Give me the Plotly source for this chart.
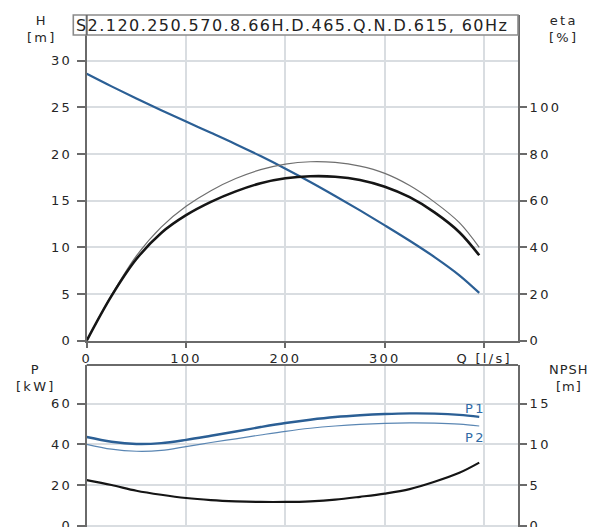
import plotly.graph_objects as go

# ---------------- data ----------------
Q = [0, 25, 50, 75, 100, 125, 150, 175, 200, 225, 250, 275, 300, 325, 350, 375, 395]
H = [28.6, 27.25, 25.95, 24.7, 23.48, 22.28, 21.06, 19.78, 18.43, 17.01, 15.51, 13.96, 12.36, 10.71, 8.96, 7.01, 5.12]
ETA = [0, 19.2, 35, 46.2, 53.8, 59.5, 64, 67.5, 69.6, 70.5, 70.3, 68.9, 66.0, 61.5, 55.0, 46.5, 36.6]
ETA_THIN = [0, 19.6, 36.4, 48.7, 57.6, 64.3, 69.5, 73.3, 75.7, 76.7, 76.4, 74.8, 71.7, 66.5, 59.4, 50.6, 40]
P1 = [43.6, 41.3, 40.2, 40.6, 42.2, 44.2, 46.3, 48.5, 50.5, 52.1, 53.4, 54.3, 54.9, 55.2, 55.1, 54.5, 53.5]
P2 = [40.0, 37.6, 36.6, 37.0, 38.9, 40.9, 42.7, 44.6, 46.4, 47.9, 49.0, 49.8, 50.3, 50.5, 50.4, 49.9, 49.0]
NPSH = [5.6, 5.0, 4.3, 3.8, 3.4, 3.15, 3.0, 2.92, 2.92, 3.0, 3.2, 3.55, 3.95, 4.5, 5.4, 6.5, 7.75]

TITLE = "S2.120.250.570.8.66H.D.465.Q.N.D.615, 60Hz"
H_TICKS = [0, 5, 10, 15, 20, 25, 30]
ETA_TICKS = [0, 20, 40, 60, 80, 100]
Q_TICKS = [0, 100, 200, 300, 400]
Q_TICKTEXT = ["0", "100", "200", "300", "Q [l/s]"]
P_TICKS = [0, 20, 40, 60]
NPSH_TICKS = [0, 5, 10, 15]

# the page body has an 8px margin: the figure is drawn 8px in from the window edge
OFF = 8
W, HT = 600 - 2 * OFF, 527 - OFF
FONT = "DejaVu Sans"
TXT = "#262626"
BLUE = "#2b5f95"
GRID = "#d9dde1"
AX = "#6a6a6a"


def sp(t, s=2.3):
    return f'<span style="letter-spacing:{s}px">{t}</span>'


def px(x):  # window pixel -> paper fraction
    return (x - OFF) / W


def py(y):
    return (HT - (y - OFF)) / HT


XL, XR = 86.7, 518.0
fig = go.Figure()

fig.add_trace(go.Scatter(x=Q, y=ETA_THIN, xaxis="x", yaxis="y2", mode="lines",
                         line=dict(color="#6f6f6f", width=1.2, shape="spline"), showlegend=False))
fig.add_trace(go.Scatter(x=Q, y=ETA, xaxis="x", yaxis="y2", mode="lines",
                         line=dict(color="#151515", width=2.6, shape="spline"), showlegend=False))
fig.add_trace(go.Scatter(x=Q, y=H, xaxis="x", yaxis="y", mode="lines",
                         line=dict(color=BLUE, width=2.2, shape="spline"), showlegend=False))

fig.add_trace(go.Scatter(x=Q, y=NPSH, xaxis="x2", yaxis="y4", mode="lines",
                         line=dict(color="#151515", width=2.2, shape="spline"), showlegend=False))
fig.add_trace(go.Scatter(x=Q, y=P2, xaxis="x2", yaxis="y3", mode="lines",
                         line=dict(color="#5a86b3", width=1.2, shape="spline"), showlegend=False))
fig.add_trace(go.Scatter(x=Q, y=P1, xaxis="x2", yaxis="y3", mode="lines",
                         line=dict(color=BLUE, width=2.4, shape="spline"), showlegend=False))

tickfont = dict(family=FONT, size=13, color=TXT)
xdom = [px(XL), px(XR)]
xr = [0, 434]

layout = dict(
    width=W, height=HT,
    margin=dict(l=0, r=0, t=0, b=0, autoexpand=False),
    paper_bgcolor="white", plot_bgcolor="white",
    showlegend=False,
    xaxis=dict(domain=xdom, range=xr, anchor="y", tickvals=Q_TICKS,
               ticktext=[sp(t) for t in Q_TICKTEXT], tickfont=tickfont,
               showgrid=True, gridcolor=GRID, gridwidth=1.6, zeroline=False,
               showline=True, linecolor=AX, linewidth=2, ticks="outside",
               ticklen=5, tickcolor=AX, tickwidth=1.5),
    yaxis=dict(domain=[py(340.7), py(15)], range=[0, 34.9], anchor="x",
               tickvals=H_TICKS, ticktext=[sp(str(t)) for t in H_TICKS],
               tickfont=tickfont, showgrid=True, gridcolor=GRID, gridwidth=1.6,
               zeroline=False, showline=True, linecolor=AX, linewidth=2,
               ticks="outside", ticklen=8, tickcolor=AX, tickwidth=1.5,
               ticklabelstandoff=2),
    yaxis2=dict(overlaying="y", side="right", anchor="x", range=[0, 139.6],
                tickvals=ETA_TICKS, ticktext=[sp(str(t)) for t in ETA_TICKS],
                tickfont=tickfont, showgrid=False, zeroline=False,
                showline=True, linecolor=AX, linewidth=2, ticks="outside",
                ticklen=7, tickcolor=AX, tickwidth=1.5),
    xaxis2=dict(domain=xdom, range=xr, anchor="y3", tickvals=Q_TICKS,
                showticklabels=False, showgrid=True, gridcolor=GRID, gridwidth=1.6,
                zeroline=False, showline=False, ticks=""),
    yaxis3=dict(domain=[0, py(365)], range=[-0.64, 79], anchor="x2",
                tickvals=P_TICKS, ticktext=[sp(str(t)) for t in P_TICKS],
                tickfont=tickfont, showgrid=True, gridcolor=GRID, gridwidth=1.6,
                zeroline=False, showline=True, linecolor=AX, linewidth=2,
                ticks="outside", ticklen=8, tickcolor=AX, tickwidth=1.5,
                ticklabelstandoff=2, ticklabeloverflow="allow"),
    yaxis4=dict(overlaying="y3", side="right", anchor="x2", range=[-0.16, 19.75],
                tickvals=NPSH_TICKS, ticktext=[sp(str(t)) for t in NPSH_TICKS],
                tickfont=tickfont, showgrid=False, zeroline=False,
                showline=True, linecolor=AX, linewidth=2, ticks="outside",
                ticklen=7, tickcolor=AX, tickwidth=1.5, ticklabeloverflow="allow"),
)
fig.update_layout(**layout)

shapes = [
    dict(type="line", xref="paper", yref="paper", x0=px(XL), x1=px(XR),
         y0=py(365), y1=py(365), line=dict(color=AX, width=2), layer="above"),
    dict(type="rect", xref="paper", yref="paper", x0=px(73.3), x1=px(XR),
         y0=py(35), y1=py(15), fillcolor="white", line=dict(color="#8a8a8a", width=1.6),
         layer="above"),
    dict(type="line", xref="paper", yref="paper", x0=px(XL), x1=px(XL),
         y0=py(35), y1=py(15), line=dict(color=AX, width=2), layer="above"),
]
fig.update_layout(shapes=shapes)

ann_font = dict(family=FONT, size=13, color=TXT)
annotations = [
    dict(text=sp(TITLE, 1.45), x=px(74), y=py(25.5), xref="paper", yref="paper",
         xanchor="left", yanchor="middle", showarrow=False,
         font=dict(family=FONT, size=16, color="#222222")),
    dict(text=sp("H") + "<br>" + sp("[m]"), x=px(42), y=py(29), xref="paper", yref="paper",
         xanchor="center", yanchor="middle", showarrow=False, font=ann_font),
    dict(text=sp("eta") + "<br>" + sp("[%]"), x=px(563), y=py(29), xref="paper", yref="paper",
         xanchor="center", yanchor="middle", showarrow=False, font=ann_font),
    dict(text=sp("P") + "<br>" + sp("[kW]"), x=px(36), y=py(378), xref="paper", yref="paper",
         xanchor="center", yanchor="middle", showarrow=False, font=ann_font),
    dict(text=sp("NPSH", 1.0) + "<br>" + sp("[m]", 1.0), x=px(569), y=py(378), xref="paper", yref="paper",
         xanchor="center", yanchor="middle", showarrow=False, font=ann_font),
    dict(text=sp("P1"), x=px(488), y=py(408), xref="paper", yref="paper",
         xanchor="right", yanchor="middle", showarrow=False,
         font=dict(family=FONT, size=13, color="#2f6aa5")),
    dict(text=sp("P2"), x=px(488), y=py(437), xref="paper", yref="paper",
         xanchor="right", yanchor="middle", showarrow=False,
         font=dict(family=FONT, size=13, color="#2f6aa5")),
]
fig.update_layout(annotations=annotations)

fig.write_html("out.html")
